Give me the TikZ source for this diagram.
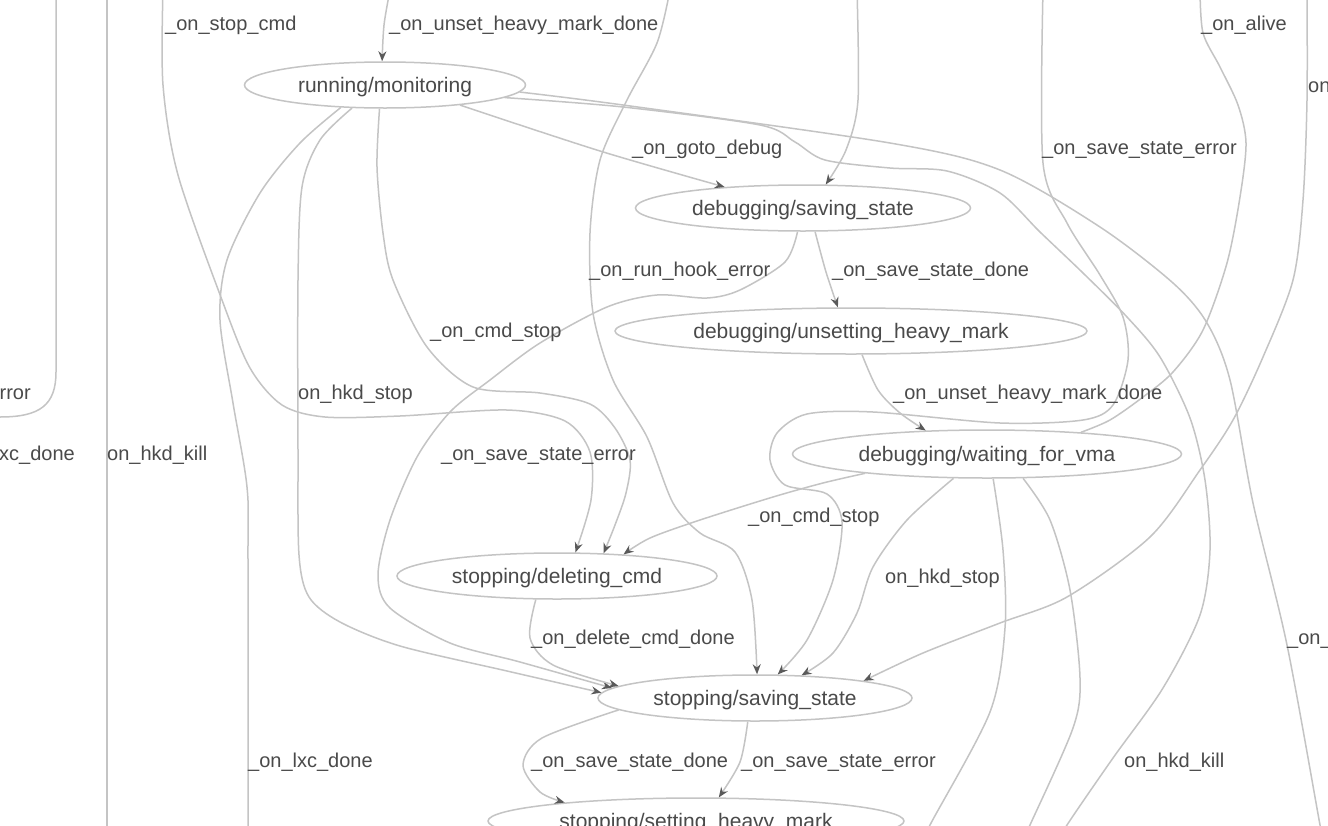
\documentclass[tikz,border=0pt]{standalone}
\usepackage{fontspec}
\setmainfont{Liberation Sans}
\usetikzlibrary{shapes.geometric,arrows.meta}
\definecolor{edgec}{HTML}{C4C4C4}
\definecolor{tipc}{HTML}{5A5A5A}
\definecolor{textc}{HTML}{4A4A4A}
\begin{document}
\begin{tikzpicture}[x=1pt,y=-1pt,
  state/.style={ellipse, draw=edgec, line width=1.5pt, inner sep=0pt,
    text=textc, font=\fontsize{21}{25}\selectfont, text height=16.5pt, text depth=2pt},
  lbl/.style={anchor=west, inner sep=0pt, text=textc, yshift=-2pt,
    font=\fontsize{20}{24}\selectfont, text height=14.3pt, text depth=4.2pt},
  lble/.style={lbl, anchor=east},
  edge/.style={draw=edgec, line width=1.5pt},
  arr/.style={edge, -{Stealth[length=10pt,width=8pt,color=tipc]}}
]
\fill[white] (0,0) rectangle (1328,825);
\useasboundingbox (0,0) rectangle (1328,825);
\clip (0,0) rectangle (1328,825);

% states
\node[state, minimum width=281pt, minimum height=46pt] (rm)   at (385,85)  {running/monitoring};
\node[state, minimum width=335pt, minimum height=46pt] (dss)  at (803,208) {debugging/saving\_state};
\node[state, minimum width=472pt, minimum height=46pt] (duh)  at (851,331) {debugging/unsetting\_heavy\_mark};
\node[state, minimum width=389pt, minimum height=48pt] (dwv)  at (987,454) {debugging/waiting\_for\_vma};
\node[state, minimum width=320pt, minimum height=46pt] (sdc)  at (557,576) {stopping/deleting\_cmd};
\node[state, minimum width=314pt, minimum height=46pt] (sss)  at (755,698) {stopping/saving\_state};
\node[state, minimum width=416pt, minimum height=46pt] (sshm) at (696,821) {stopping/setting\_heavy\_mark};

% loose ends of transitions to and from states outside the frame
\coordinate (inA) at (390,-10);
\coordinate (inB) at (163,-10);
\coordinate (inC) at (56,-10);
\coordinate (outC) at (-10,417);
\coordinate (inD) at (107,-10);
\coordinate (outD) at (107,840);
\coordinate (outE) at (248,840);
\coordinate (outH) at (1323,840);
\coordinate (outI) at (1060,840);
\coordinate (inF) at (857,-10);
\coordinate (inG) at (670,-10);
\coordinate (inJ) at (1043,-10);
\coordinate (outK) at (1200,-10);
\coordinate (inL) at (1307,-10);
\coordinate (outM) at (925,840);
\coordinate (outN) at (1023,840);

% transitions
\draw[arr] plot[smooth] coordinates {(inA) (384,25) (rm.97)};
\draw[arr] plot[smooth] coordinates {(inB) (163,85) (178,175) (222,300) (250,368) (282,405) (325,417) (400,416) (507,410) (565,421) (590,452) (591,500) (sdc.52)};
\draw[edge] (inC) -- (56,372) .. controls (56,405) and (40,417) .. (0,417) -- (outC);
\draw[edge] (inD) -- (outD);
\draw[edge] plot[smooth] coordinates {(rm.207.5) (300,143) (260,193) (227,260) (220,320) (233,403) (247,487) (248,560) (outE)};
\draw[arr] plot[smooth] coordinates {(rm.215) (320,140) (302,187) (298,280) (298,450) (299,555) (309,597) (340,622) (400,646) (507,671) (sss.178)};
\draw[arr] plot[smooth] coordinates {(rm.257.7) (377,167) (383,233) (393,280) (427,347) (473,387) (540,393) (590,404) (615,428) (630,460) (626,493) (615,525) (sdc.26)};
\draw[arr] plot[smooth] coordinates {(rm.345.5) (600,151) (dss.165.4)};
\draw[edge] plot[smooth] coordinates {(rm.357.5) (623,105) (890,143) (1000,170) (1100,227) (1173,283) (1207,323) (1230,380) (1253,503) (1287,645) (1320,825) (outH)};
\draw[edge] plot[smooth] coordinates {(rm.354) (623,107) (760,125) (795,142) (825,160) (890,168) (947,171) (1000,193) (1040,232) (1083,273) (1127,317) (1160,357) (1190,418) (1205,480) (1210,550) (1200,615) (1163,688) (1113,758) (1067,825) (outI)};
\draw[arr] plot[smooth] coordinates {(inF) (858,100) (846,150) (dss.46)};
\draw[arr] plot[smooth] coordinates {(dss.297.7) (826,272) (duh.119.5)};
\draw[arr] plot[smooth] coordinates {(dss.257.7) (785,262) (740,290) (707,298) (657,295) (607,307) (540,343) (490,380) (450,412) (417,457) (390,520) (378,575) (390,608) (450,643) (520,662) (sss.176.3)};
\draw[arr] plot[smooth] coordinates {(inG) (657,43) (627,100) (600,160) (590,233) (593,313) (613,380) (647,437) (673,503) (700,533) (735,552) (752,600) (sss.85)};
\draw[arr] plot[smooth] coordinates {(duh.295.6) (878,390) (900,413) (dwv.159.9)};
\draw[arr] plot[smooth] coordinates {(inJ) (1043,163) (1067,223) (1100,275) (1123,317) (1128,360) (1113,405) (1083,420) (1000,423) (873,412) (807,414) (777,433) (770,460) (785,485) (827,494) (842,522) (833,580) (807,640) (sss.46)};
\draw[edge] plot[smooth] coordinates {(dwv.13.3) (1110,420) (1143,397) (1173,372) (1203,330) (1227,263) (1240,197) (1246,143) (1238,105) (1220,67) (1203,33) (outK)};
\draw[arr] plot[smooth] coordinates {(inL) (1307,100) (1303,200) (1293,280) (1263,357) (1233,420) (1200,470) (1150,537) (1067,597) (1000,623) (923,653) (sss.9.7)};
\draw[arr] plot[smooth] coordinates {(dwv.189.1) (823,483) (773,497) (700,520) (650,538) (sdc.18.9)};
\draw[arr] plot[smooth] coordinates {(dwv.216.5) (907,520) (873,567) (857,613) (833,653) (sss.26.1)};
\draw[edge] plot[smooth] coordinates {(dwv.284) (1003,550) (1005,628) (990,712) (930,825) (outM)};
\draw[edge] plot[smooth] coordinates {(dwv.326.8) (1050,520) (1070,590) (1080,678) (1073,728) (1030,825) (outN)};
\draw[arr] plot[smooth] coordinates {(sdc.228.7) (530,638) (553,665) (sss.175)};
\draw[arr] plot[smooth] coordinates {(sss.185) (542,738) (523,765) (540,792) (sshm.172.2)};
\draw[arr] plot[smooth] coordinates {(sss.253) (740,762) (sshm.46)};

% transition labels
\node[lbl] (l1) at (165,23) {\_on\_stop\_cmd};
\node[lbl] (l2) at (389,23) {\_on\_unset\_heavy\_mark\_done};
\node[lbl] (l3) at (1201,23) {\_on\_alive};
\node[lbl] (l4) at (1308,85) {on\_hkd\_stop};
\node[lbl] (l5) at (632,147) {\_on\_goto\_debug};
\node[lbl] (l6) at (1042,147) {\_on\_save\_state\_error};
\node[lbl] (l7) at (589,269) {\_on\_run\_hook\_error};
\node[lbl] (l8) at (832,269) {\_on\_save\_state\_done};
\node[lbl] (l9) at (430,330) {\_on\_cmd\_stop};
\node[lble] (l10) at (31,392) {\_on\_run\_hook\_error};
\node[lbl] (l11) at (298,392) {on\_hkd\_stop};
\node[lbl] (l12) at (893,392) {\_on\_unset\_heavy\_mark\_done};
\node[lble] (l13) at (75,453) {\_on\_lxc\_done};
\node[lbl] (l14) at (107,453) {on\_hkd\_kill};
\node[lbl] (l15) at (441,453) {\_on\_save\_state\_error};
\node[lbl] (l16) at (748,515) {\_on\_cmd\_stop};
\node[lbl] (l17) at (885,576) {on\_hkd\_stop};
\node[lbl] (l18) at (531,637) {\_on\_delete\_cmd\_done};
\node[lbl] (l19) at (1287,637) {\_on\_lxc\_done};
\node[lbl] (l20) at (531,760) {\_on\_save\_state\_done};
\node[lbl] (l21) at (741,760) {\_on\_save\_state\_error};
\node[lbl] (l22) at (248,760) {\_on\_lxc\_done};
\node[lbl] (l23) at (1124,760) {on\_hkd\_kill};
\end{tikzpicture}
\end{document}
